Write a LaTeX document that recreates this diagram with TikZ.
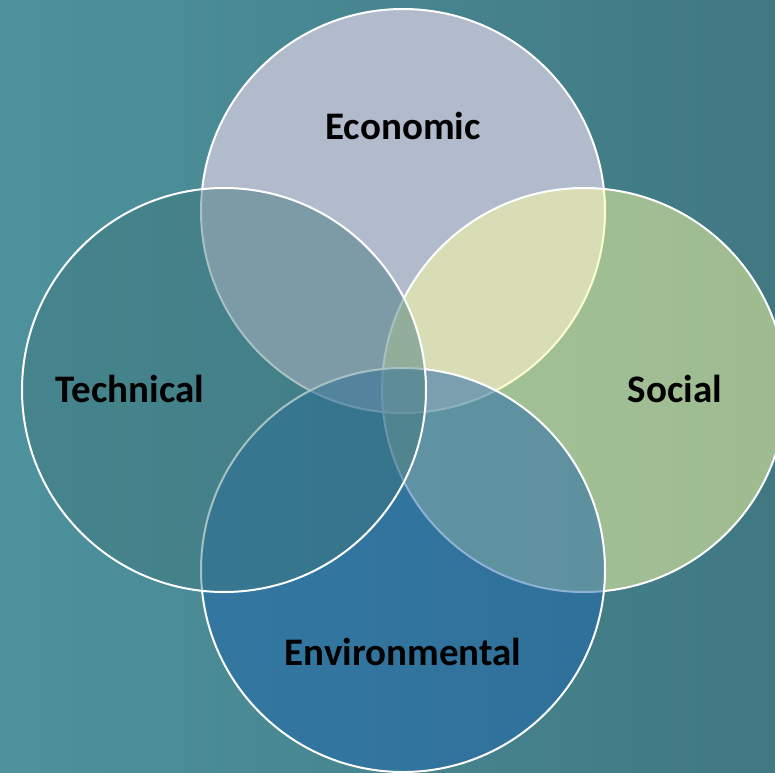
\documentclass[tikz,border=0pt]{standalone}
\usepackage{fontspec}
\setmainfont{Carlito}
\usepackage{tikz}
\definecolor{bgleft}{RGB}{77,146,157}
\definecolor{bgright}{RGB}{64,120,130}
\definecolor{econfill}{RGB}{178,187,203}
\definecolor{socialfill}{RGB}{254,255,160}
\definecolor{envfill}{RGB}{30,101,173}
\definecolor{techfill}{RGB}{62,118,124}
\tikzset{
	venn/.style={circle, inner sep=0pt, minimum size=404pt, draw=white, line width=2pt},
	tag/.style={anchor=base, font=\fontsize{39}{41}\selectfont\bfseries, text=black}
}

\begin{document}
\begin{tikzpicture}[x=1pt,y=-1pt]
				
					\useasboundingbox (0,0) rectangle (775,772);
					\clip (0,0) rectangle (775,772);
					\shade[left color=bgleft, right color=bgright] (0,0) rectangle (775,772);
					
					% circles, back to front
					\node[venn, fill=econfill] (econ) at (403,211) {};
					\node[venn, fill=socialfill, fill opacity=0.5] (social) at (584,390) {};
					\node[venn, fill=envfill, fill opacity=0.5] (env) at (403,570) {};
					\node[venn, fill=techfill, fill opacity=0.45] (tech) at (224,390) {};
					
					\node[tag] (econtxt) at (403,139) {Economic};
					\node[tag] (techtxt) at (130,402) {Technical};
					\node[tag] (socialtxt) at (675,402) {Social};
					\node[tag] (envtxt) at (403,665) {Environmental};
					%\draw [red] (current bounding box.south west) rectangle (current bounding box.north east);
				\end{tikzpicture}
\end{document}
